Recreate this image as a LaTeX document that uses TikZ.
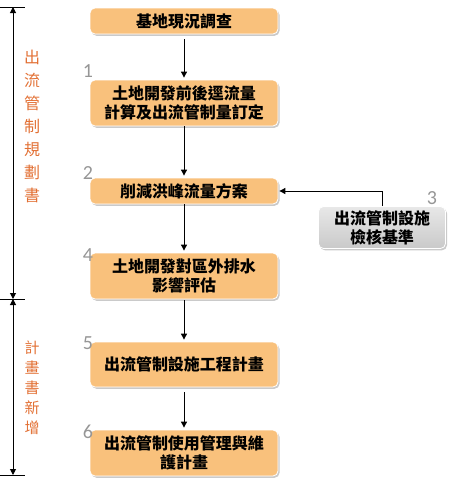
\documentclass[tikz,border=0pt]{standalone}
\usepackage{fontspec}
\newfontfamily\cjk{Noto Sans CJK TC}
\newfontfamily\numfont{Carlito}
\usetikzlibrary{arrows.meta,shadows}
\definecolor{boxorange}{RGB}{249,193,124}
\definecolor{lblorange}{RGB}{226,112,52}
\definecolor{numgray}{RGB}{150,150,150}
\begin{document}
\begin{tikzpicture}[x=1pt,y=-1pt,
  stepbox/.style={rectangle, rounded corners=5pt, fill=boxorange, draw=white, line width=0.8pt,
    minimum width=188pt, align=center, inner sep=2pt,
    font=\cjk\bfseries\fontsize{16}{19}\selectfont,
    drop shadow={shadow xshift=1.5pt, shadow yshift=-1.8pt, opacity=0.35, fill=black!60}},
  graybox/.style={stepbox, fill=none, top color=gray!18, bottom color=gray!42, minimum width=127pt},
  arr/.style={-{Triangle[length=6pt,width=6pt]}, line width=0.9pt},
  darr/.style={{Triangle[length=6pt,width=6pt]}-{Triangle[length=6pt,width=6pt]}, line width=1pt},
  num/.style={font=\numfont\fontsize{20}{20}\selectfont, text=numgray, inner sep=0pt},
  side/.style={font=\cjk\fontsize{16}{23}\selectfont, text=lblorange, align=center, inner sep=0pt}
]
\useasboundingbox (0,0) rectangle (456,491);

\node[stepbox, minimum height=26pt] (b0) at (184,21) {基地現況調查};
\node[stepbox, minimum height=46pt] (b1) at (184,103) {土地開發前後逕流量\\計算及出流管制量訂定};
\node[stepbox, minimum height=26pt] (b2) at (184,191) {削減洪峰流量方案};
\node[graybox, minimum height=42pt] (b3) at (382,227.5) {出流管制設施\\檢核基準};
\node[stepbox, minimum height=46pt] (b4) at (184,276) {土地開發對區外排水\\影響評估};
\node[stepbox, minimum height=45pt] (b5) at (184,364.5) {出流管制設施工程計畫};
\node[stepbox, minimum height=46pt] (b6) at (184,453) {出流管制使用管理與維\\護計畫};

\node[num] (n1) at (88,71) {1};
\node[num] (n2) at (88,173) {2};
\node[num] (n3) at (432,198) {3};
\node[num] (n4) at (88,255) {4};
\node[num] (n5) at (88,343) {5};
\node[num] (n6) at (88,432) {6};

\draw[arr, shorten <=5pt, shorten >=2pt] (b0) -- (b1);
\draw[arr, shorten >=2pt] (b1) -- (b2);
\draw[arr, shorten >=2pt] (b2) -- (b4);
\draw[arr, shorten <=1pt, shorten >=2pt] (b4) -- (b5);
\draw[arr, shorten <=5pt, shorten >=2pt] (b5) -- (b6);
\draw[arr, shorten >=1pt] (b3.north) |- (b2.east);

% left bracket
\coordinate (tl) at (0,7);   \coordinate (tr) at (25,7);
\coordinate (ml) at (0,299); \coordinate (mr) at (25,299);
\coordinate (bl) at (0,475); \coordinate (br) at (25,475);
\coordinate (at) at (13,7); \coordinate (am) at (13,299); \coordinate (ab) at (13,475);
\draw[line width=1pt] (tl) -- (tr);
\draw[line width=1pt] (ml) -- (mr);
\draw[line width=1pt] (bl) -- (br);
\draw[darr] (at) -- (am);
\draw[darr] (am) -- (ab);

\node[side] (s1) at (32,126) {出\\流\\管\\制\\規\\劃\\書};
\node[side, font=\cjk\fontsize{15}{20}\selectfont] (s2) at (32,388) {計\\畫\\書\\新\\增};
\end{tikzpicture}
\end{document}
